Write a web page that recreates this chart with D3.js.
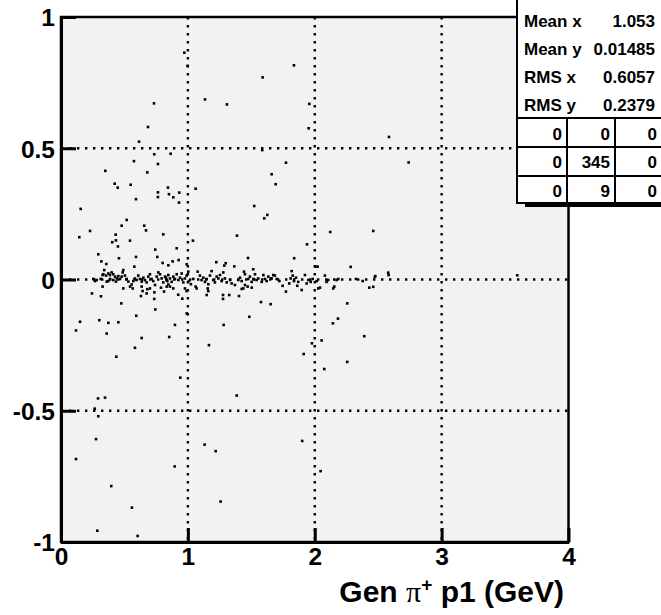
<!DOCTYPE html>
<html>
<head>
<meta charset="utf-8">
<script src="https://cdn.jsdelivr.net/npm/d3@7"></script>
<style>
  html, body { margin: 0; padding: 0; background: #ffffff; }
  svg { display: block; }
  text { font-family: "Liberation Sans", Arial, Helvetica, sans-serif; font-weight: bold; }
</style>
</head>
<body>
<svg id="chart" width="661" height="615"></svg>
<script>
// ---- data ----
const xTickValues = [0, 1, 2, 3, 4];
const xTickLabels = ["0", "1", "2", "3", "4"];
const yTickValues = [-1, -0.5, 0, 0.5, 1];
const yTickLabels = ["-1", "-0.5", "0", "0.5", "1"];
const xGridValues = [1, 2, 3];
const yGridValues = [-0.5, 0, 0.5];

// scattered entries (away from the central band)
const outlierX = [0.972,0.998,0.733,0.686,0.615,0.735,0.864,0.575,0.764,0.349,0.680,0.423,0.447,0.549,0.843,0.764,0.851,0.885,0.932,1.061,0.591,0.764,1.135,1.308,1.589,1.836,1.957,1.952,1.586,1.773,1.660,1.692,2.585,2.740,0.155,0.930,0.144,0.229,0.518,0.478,0.656,0.670,0.806,0.431,0.433,0.404,0.449,0.544,1.040,1.387,0.743,0.912,0.294,0.457,0.759,0.318,0.357,0.591,0.801,0.846,0.880,0.927,0.991,1.224,1.298,1.366,0.578,0.244,0.315,0.475,0.630,0.675,0.735,0.743,0.924,0.956,1.277,1.277,1.326,1.403,0.150,0.118,0.302,0.373,0.452,0.360,0.593,0.636,0.898,0.853,0.583,0.436,0.991,1.166,1.282,0.940,0.292,0.347,1.385,1.523,1.626,1.602,1.939,2.122,2.461,1.838,1.474,1.287,2.283,2.007,2.023,1.515,2.579,2.582,2.474,1.576,1.652,1.484,2.256,2.183,2.143,2.390,2.054,1.978,1.913,2.256,2.075,0.266,0.294,0.276,0.118,0.896,1.132,1.219,0.396,1.258,0.559,0.286,0.604,1.901,2.046,3.596,1.442,1.450];
const outlierY = [0.864,0.814,0.671,0.581,0.525,0.477,0.479,0.451,0.440,0.414,0.408,0.365,0.350,0.361,0.350,0.332,0.325,0.313,0.331,0.346,0.306,0.314,0.686,0.667,0.770,0.816,0.669,0.576,0.493,0.445,0.401,0.363,0.543,0.446,0.269,0.293,0.161,0.185,0.227,0.205,0.205,0.187,0.172,0.171,0.149,0.142,0.126,0.148,0.148,0.167,0.114,0.119,0.096,0.081,0.086,0.069,0.059,0.086,0.063,0.054,0.069,0.074,0.058,0.066,0.062,0.050,0.049,-0.053,-0.064,-0.091,-0.063,-0.053,-0.074,-0.114,-0.058,-0.073,-0.059,-0.074,-0.059,-0.063,-0.161,-0.194,-0.155,-0.165,-0.163,-0.206,-0.138,-0.223,-0.173,-0.219,-0.260,-0.294,-0.129,-0.250,-0.173,-0.374,-0.453,-0.450,-0.442,0.280,0.246,0.233,0.134,0.181,0.185,0.081,0.082,0.053,0.048,0.049,0.049,0.039,0.026,0.017,0.010,-0.086,-0.094,-0.142,-0.091,-0.149,-0.167,-0.216,-0.232,-0.243,-0.284,-0.314,-0.341,-0.492,-0.521,-0.608,-0.684,-0.712,-0.629,-0.654,-0.787,-0.846,-0.869,-0.957,-0.977,-0.615,-0.730,0.016,0.030,0.020];

// dense band around zero
const coreX = [0.255,0.268,0.281,0.313,0.328,0.341,0.334,0.355,0.373,0.386,0.399,0.412,0.426,0.439,0.452,0.465,0.478,0.386,0.373,0.360,0.412,0.433,0.486,0.491,0.504,0.518,0.531,0.544,0.557,0.570,0.583,0.596,0.609,0.622,0.636,0.649,0.662,0.675,0.688,0.701,0.714,0.727,0.741,0.754,0.767,0.780,0.793,0.806,0.827,0.838,0.846,0.328,0.491,0.565,0.636,0.643,0.680,0.701,0.736,0.788,0.812,0.833,
0.820,0.833,0.846,0.859,0.872,0.885,0.898,0.912,0.925,0.938,0.951,0.964,0.977,0.990,1.003,1.009,1.024,1.043,1.061,1.077,1.095,1.108,1.122,1.135,1.148,1.161,1.174,1.187,1.200,1.213,1.227,1.240,1.253,1.266,1.279,1.292,1.306,1.332,1.345,1.371,1.397,1.411,1.424,1.437,1.450,1.476,1.489,1.503,1.516,1.529,1.542,1.555,1.582,1.595,1.608,1.621,1.634,1.655,1.673,0.859,0.885,0.977,0.990,1.069,1.156,1.161,1.148,1.424,1.471,1.503,
1.660,1.686,1.700,1.721,1.747,1.773,1.799,1.810,1.818,1.826,1.836,1.852,1.862,1.870,1.897,1.923,1.936,1.950,1.968,1.984,2.015,2.028,2.041,2.080,2.093,2.106,2.146,2.154,2.172,2.185,2.325,2.378,2.430,2.461,2.477];
const coreY = [0.002,-0.006,-0.002,0.002,0.017,0.036,0.020,0.015,0.023,0.017,0.027,0.020,0.011,0.004,0.013,0.002,0.011,0.002,-0.006,-0.008,-0.002,-0.008,0.027,0.036,0.015,0.002,-0.008,-0.027,-0.019,-0.006,0.004,-0.002,0.015,0.002,-0.008,0.007,-0.002,-0.011,0.011,0.020,0.002,-0.006,-0.021,0.011,0.027,0.020,0.004,-0.011,0.007,-0.006,-0.019,-0.027,-0.034,-0.034,-0.027,-0.044,-0.037,-0.034,-0.049,-0.031,-0.046,-0.027,
0.011,-0.002,0.017,0.004,-0.009,0.011,0.002,0.020,-0.002,0.007,0.023,-0.011,0.004,0.015,0.030,-0.006,-0.018,0.002,-0.027,0.030,0.015,-0.002,0.007,-0.009,0.002,-0.018,0.015,0.032,-0.002,-0.011,0.011,0.004,0.017,-0.006,0.027,0.004,-0.011,-0.002,-0.015,-0.021,-0.002,0.007,-0.006,-0.034,-0.021,0.002,0.011,-0.009,0.002,0.020,-0.002,0.004,-0.009,0.017,0.002,-0.006,0.011,0.004,0.017,-0.027,-0.034,-0.034,-0.044,-0.034,-0.034,-0.044,-0.059,-0.036,-0.027,-0.031,
0.004,0.015,0.002,-0.006,-0.024,-0.046,-0.015,0.004,0.032,0.015,-0.006,0.007,-0.024,-0.009,-0.040,0.017,-0.015,-0.002,-0.009,0.002,-0.006,-0.034,-0.031,0.015,-0.009,-0.002,-0.034,-0.027,-0.002,0.002,0.002,-0.006,-0.031,-0.028,0.013];

const statLabels = ["Mean x", "Mean y", "RMS x", "RMS y"];
const statValues = ["1.053", "0.01485", "0.6057", "0.2379"];
const cellCounts = [["0", "0", "0"], ["0", "345", "0"], ["0", "9", "0"]];

// ---- drawing ----
(function () {
const svg = d3.select("#chart");
const pLeft = 61, pRight = 568.5, pTop = 17, pBottom = 542;

const x = d3.scaleLinear().domain([0, 4]).range([pLeft, pRight]);
const y = d3.scaleLinear().domain([-1, 1]).range([pBottom, pTop]);

svg.append("rect").attr("width", 661).attr("height", 615).attr("fill", "#ffffff");

// frame background
svg.append("rect")
  .attr("x", pLeft).attr("y", pTop)
  .attr("width", pRight - pLeft).attr("height", pBottom - pTop)
  .attr("fill", "#f2f2f2");

// grid
const grid = svg.append("g").attr("stroke", "#000").attr("stroke-width", 2.4)
  .attr("stroke-dasharray", "2.4,5.6");
grid.selectAll("line.vx").data(xGridValues).join("line")
  .attr("class", "vx")
  .attr("x1", d => x(d)).attr("x2", d => x(d))
  .attr("y1", pTop).attr("y2", pBottom);
grid.selectAll("line.hy").data(yGridValues).join("line")
  .attr("class", "hy")
  .attr("x1", pLeft).attr("x2", pRight)
  .attr("y1", d => y(d)).attr("y2", d => y(d));

// points
const pts = svg.append("g").attr("fill", "#000");
const allX = outlierX.concat(coreX), allY = outlierY.concat(coreY);
pts.selectAll("rect").data(d3.range(allX.length)).join("rect")
  .attr("x", i => x(allX[i]) - 1.3)
  .attr("y", i => y(allY[i]) - 1.3)
  .attr("width", 2.6).attr("height", 2.6);

// frame border
svg.append("rect")
  .attr("x", pLeft).attr("y", pTop)
  .attr("width", pRight - pLeft).attr("height", pBottom - pTop)
  .attr("fill", "none").attr("stroke", "#000").attr("stroke-width", 2.5);

// axes
const yAxis = d3.axisLeft(y).tickValues(yTickValues)
  .tickFormat((d, i) => yTickLabels[i]).tickSizeInner(-15).tickSizeOuter(0).tickPadding(6);
const gy = svg.append("g").attr("transform", `translate(${pLeft},0)`).call(yAxis);
const xAxis = d3.axisBottom(x).tickValues(xTickValues)
  .tickFormat((d, i) => xTickLabels[i]).tickSizeInner(-14).tickSizeOuter(0).tickPadding(5);
const gx = svg.append("g").attr("transform", `translate(0,${pBottom})`).call(xAxis);

[gx, gy].forEach(g => {
  g.select(".domain").attr("stroke", "#000").attr("stroke-width", 3);
  g.selectAll(".tick line").attr("stroke", "#000").attr("stroke-width", 3);
  g.selectAll(".tick text").attr("fill", "#000")
    .style("font-size", "24.5px").style("font-weight", "bold")
    .style("font-family", "'Liberation Sans', Arial, sans-serif");
});
gy.selectAll(".tick text").attr("dy", "0.36em");
gx.selectAll(".tick text").attr("dy", "0.72em");

// x-axis title
const title = svg.append("text")
  .attr("x", 564).attr("y", 602)
  .attr("text-anchor", "end")
  .style("font-size", "30px").attr("fill", "#000");
title.append("tspan").text("Gen ");
title.append("tspan").style("font-family", "'Liberation Serif', 'DejaVu Serif', serif")
  .style("font-weight", "normal").text("\u03C0");
title.append("tspan").attr("dy", -11).style("font-size", "19px").text("+");
title.append("tspan").attr("dy", 11).text(" p1 (GeV)");

// stats box
const bx = 517, by = -3, bw = 148, bh = 206;
svg.append("rect").attr("x", bx + 8).attr("y", by + bh).attr("width", bw).attr("height", 4).attr("fill", "#000");
svg.append("rect").attr("x", bx).attr("y", by).attr("width", bw).attr("height", bh)
  .attr("fill", "#fff").attr("stroke", "#000").attr("stroke-width", 2);

const stats = svg.append("g").style("font-size", "17px").attr("fill", "#000");
statLabels.forEach((lab, i) => {
  stats.append("text").attr("x", 524).attr("y", 26.5 + i * 28.2).text(lab);
  stats.append("text").attr("x", 655).attr("y", 26.5 + i * 28.2)
    .attr("text-anchor", "end").text(statValues[i]);
});

const rowLines = [118, 147, 176];
svg.selectAll("line.row").data(rowLines).join("line")
  .attr("class", "row")
  .attr("x1", bx).attr("x2", bx + bw).attr("y1", d => d).attr("y2", d => d)
  .attr("stroke", "#000").attr("stroke-width", 2);
const colLines = [567, 615];
svg.selectAll("line.col").data(colLines).join("line")
  .attr("class", "col")
  .attr("x1", d => d).attr("x2", d => d).attr("y1", 118).attr("y2", by + bh)
  .attr("stroke", "#000").attr("stroke-width", 2);

const cellRight = [562, 610, 657];
cellCounts.forEach((row, r) => {
  row.forEach((v, c) => {
    stats.append("text").attr("x", cellRight[c]).attr("y", 139.5 + r * 28.8)
      .attr("text-anchor", "end").text(v);
  });
});
})();
</script>
</body>
</html>
